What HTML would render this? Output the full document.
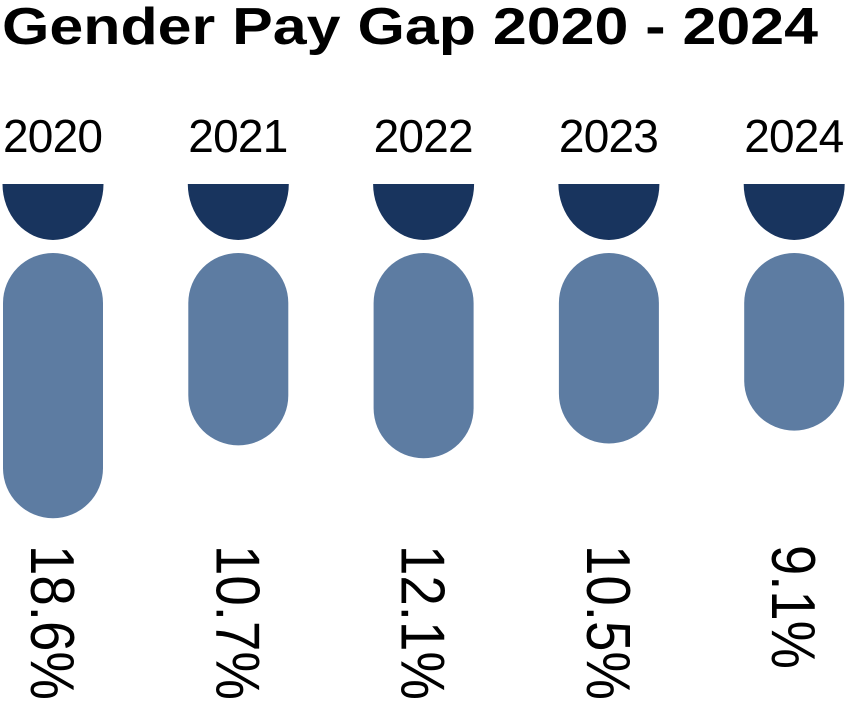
<!DOCTYPE html>
<html><head><meta charset="utf-8"><style>
html,body{margin:0;padding:0;background:#fff;width:848px;height:705px;overflow:hidden}
svg{display:block;font-family:"Liberation Sans",sans-serif}
</style></head><body>
<svg id="chart" width="848" height="705">
<text x="2" y="44" font-size="52" font-weight="bold" fill="#000" textLength="816" lengthAdjust="spacingAndGlyphs">Gender Pay Gap 2020 - 2024</text>
<g id="cols"></g>
</svg>
<script>
const years = ["2020","2021","2022","2023","2024"];
const gaps = [18.6, 10.7, 12.1, 10.5, 9.1];
const labels = ["18.6%","10.7%","12.1%","10.5%","9.1%"];
const NS = "http://www.w3.org/2000/svg";
const g = document.getElementById("cols");
const xPos = i => 53 + i * 185.3;
const hScale = v => 93.7 + 9.22 * v;
years.forEach((y, i) => {
  const cx = xPos(i);
  const t = document.createElementNS(NS, "text");
  t.setAttribute("x", cx); t.setAttribute("y", 152);
  t.setAttribute("text-anchor", "middle"); t.setAttribute("font-size", "46");
  t.setAttribute("fill", "#000"); t.setAttribute("textLength", "100");
  t.textContent = y;
  
  
  g.appendChild(t);
  const head = document.createElementNS(NS, "path");
  head.setAttribute("d", `M${cx-50.5},184 L${cx+50.5},184 A50.5 56 0 0 1 ${cx-50.5},184 Z`);
  head.setAttribute("fill", "#18345e");
  
  
  g.appendChild(head);
  const body = document.createElementNS(NS, "rect");
  body.setAttribute("x", cx - 50); body.setAttribute("y", 253);
  body.setAttribute("width", 100); body.setAttribute("height", hScale(gaps[i]));
  body.setAttribute("rx", 50); body.setAttribute("ry", 50);
  body.setAttribute("fill", "#5d7ca2");
  
  
  g.appendChild(body);
  const v = document.createElementNS(NS, "text");
  v.setAttribute("transform", `translate(${cx-22},545) rotate(90)`);
  v.setAttribute("font-size", "62"); v.setAttribute("fill", "#000");
  v.setAttribute("textLength", labels[i].length * 31);
  v.setAttribute("lengthAdjust", "spacingAndGlyphs");
  v.textContent = labels[i];
  
  
  g.appendChild(v);
});
</script>
</body></html>
